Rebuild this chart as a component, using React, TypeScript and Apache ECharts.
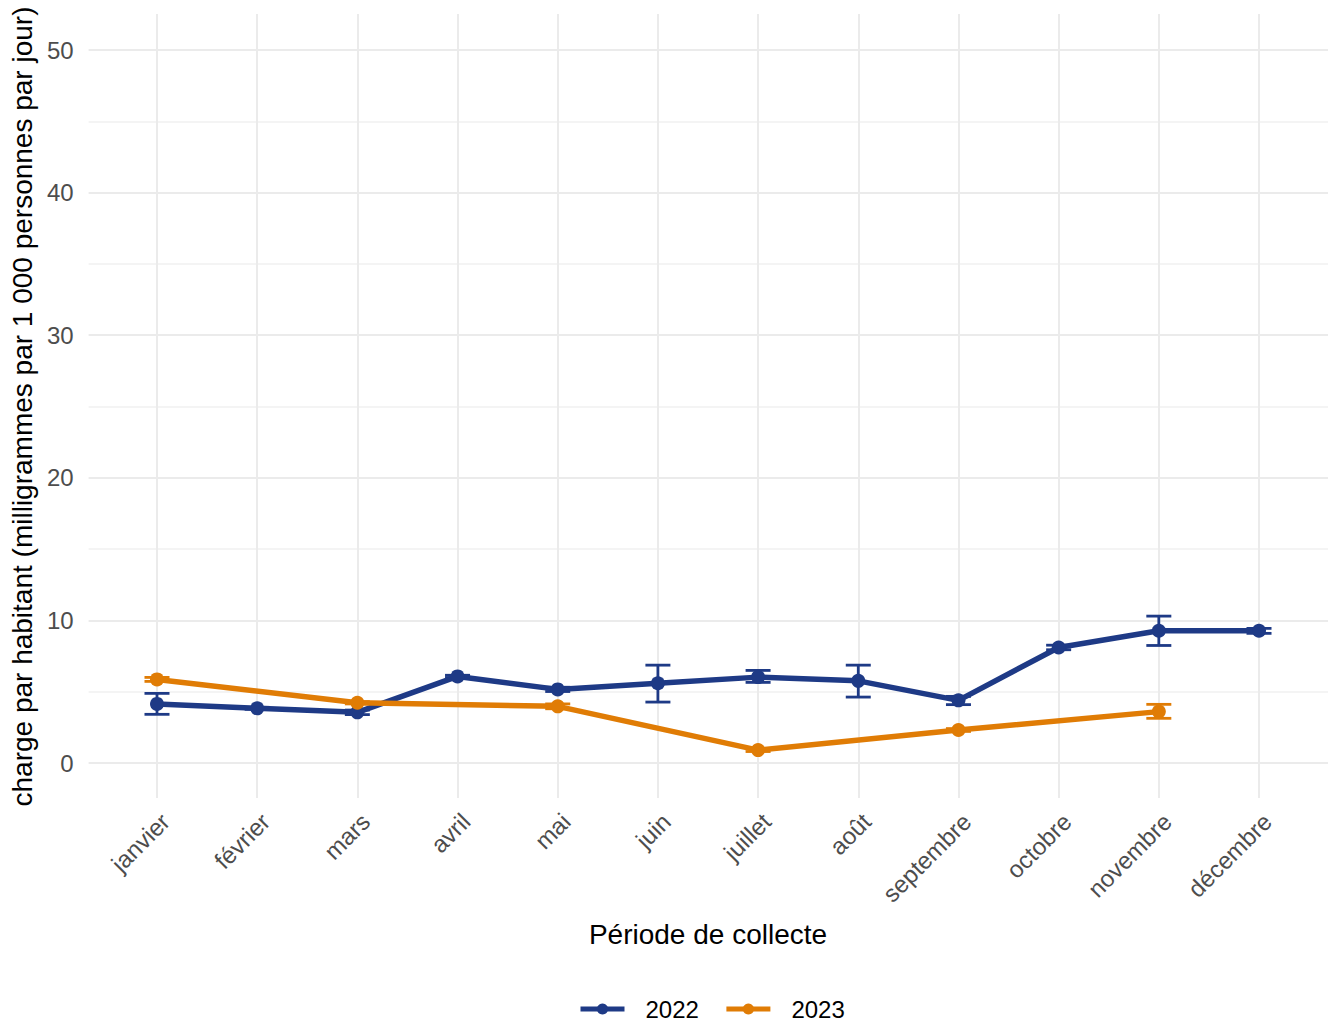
import React, { useEffect, useRef } from "react";
import * as echarts from "echarts";

const months = ["janvier", "février", "mars", "avril", "mai", "juin", "juillet", "août", "septembre", "octobre", "novembre", "décembre"];

const v2022 = [4.1, 3.79, 3.51, 6.03, 5.12, 5.55, 5.98, 5.72, 4.35, 8.06, 9.23, 9.23];
const lo2022 = [3.37, 3.72, 3.35, 5.95, 4.97, 4.23, 5.61, 4.58, 4.05, 7.9, 8.2, 9.05];
const hi2022 = [4.84, 3.86, 3.67, 6.11, 5.27, 6.82, 6.45, 6.82, 4.63, 8.22, 10.26, 9.4];

const v2023 = [5.82, null, 4.18, null, 3.93, null, 0.86, null, 2.27, null, 3.56, null];
const lo2023 = [5.68, null, 4.1, null, 3.76, null, 0.76, null, 2.17, null, 3.09, null];
const hi2023 = [5.96, null, 4.26, null, 4.1, null, 0.96, null, 2.37, null, 4.07, null];

const C2022 = "#1e3a86";
const C2023 = "#e07c05";
const FONT = "'Liberation Sans', Arial, sans-serif";

function errData(lo: (number | null)[], hi: (number | null)[]) {
  const out: number[][] = [];
  lo.forEach((l, i) => {
    const h = hi[i];
    if (l != null && h != null) out.push([i, l, h]);
  });
  return out;
}

function errSeries(name: string, color: string, data: number[][]) {
  return {
    type: "custom",
    name,
    xAxisIndex: 1,
    yAxisIndex: 1,
    z: 3,
    data,
    encode: { x: 0, y: [1, 2] },
    renderItem: (params: any, api: any) => {
      const i = api.value(0);
      const pLo = api.coord([i, api.value(1)]);
      const pHi = api.coord([i, api.value(2)]);
      const w = 12.5;
      const style = { stroke: color, lineWidth: 2.8 };
      return {
        type: "group",
        children: [
          { type: "line", shape: { x1: pLo[0], y1: pHi[1], x2: pLo[0], y2: pLo[1] }, style },
          { type: "line", shape: { x1: pLo[0] - w, y1: pHi[1], x2: pLo[0] + w, y2: pHi[1] }, style },
          { type: "line", shape: { x1: pLo[0] - w, y1: pLo[1], x2: pLo[0] + w, y2: pLo[1] }, style },
        ],
      };
    },
  };
}

export default function App() {
  const ref = useRef<HTMLDivElement>(null);
  useEffect(() => {
    if (!ref.current) return;
    const chart = echarts.init(ref.current, undefined, { renderer: "svg" });
    const option: any = {
      animation: false,
      backgroundColor: "#ffffff",
      textStyle: { fontFamily: FONT },
      grid: [
        { left: 88, right: 2, top: 50, bottom: 260 },
        { left: 106.9, right: 20.9, top: 14, bottom: 225 },
      ],
      xAxis: [
        { gridIndex: 0, type: "category", data: months, show: false },
        {
          gridIndex: 1,
          type: "category",
          data: months,
          axisLine: { show: false, onZero: false },
          axisTick: {
            show: true,
            inside: true,
            alignWithLabel: true,
            interval: 0,
            length: 784,
            lineStyle: { color: "#ebebeb", width: 2 },
          },
          splitLine: { show: false },
          axisLabel: {
            interval: 0,
            rotate: 45,
            margin: 11,
            verticalAlign: "top",
            fontSize: 24,
            color: "#4d4d4d",
            fontFamily: FONT,
          },
        },
      ],
      yAxis: [
        {
          gridIndex: 0,
          type: "value",
          min: 0,
          max: 50,
          interval: 10,
          axisLine: { show: false },
          axisTick: { show: false },
          axisLabel: {
            margin: 15,
            fontSize: 24,
            color: "#4d4d4d",
            fontFamily: FONT,
          },
          splitLine: { show: true, lineStyle: { color: "#ebebeb", width: 2 } },
          minorTick: { show: false, splitNumber: 2 },
          minorSplitLine: { show: true, lineStyle: { color: "#f0f0f0", width: 1.5 } },
          name: "charge par habitant (milligrammes par 1 000 personnes par jour)",
          nameLocation: "middle",
          nameRotate: 90,
          nameGap: 52,
          nameTextStyle: { fontSize: 28, color: "#000000", fontFamily: FONT },
        },
        {
          gridIndex: 1,
          type: "value",
          min: -2.5,
          max: 52.5,
          show: false,
          splitLine: { show: false },
        },
      ],
      legend: {
        data: ["2022", "2023"],
        left: 578,
        top: 997,
        padding: 0,
        itemWidth: 44,
        itemHeight: 14,
        itemGap: 25,
        lineStyle: { width: 5 },
        textStyle: { fontSize: 24, color: "#000000", fontFamily: FONT, padding: [0, 0, 0, 16] },
      },
      graphic: [
        {
          type: "text",
          x: 708,
          y: 934,
          style: {
            text: "Période de collecte",
            fontSize: 28,
            fill: "#000000",
            fontFamily: FONT,
            textAlign: "center",
            textVerticalAlign: "middle",
          },
        },
      ],
      series: [
        {
          name: "2022",
          type: "line",
          xAxisIndex: 1,
          yAxisIndex: 1,
          data: v2022,
          symbol: "circle",
          symbolSize: 14,
          z: 4,
          itemStyle: { color: C2022 },
          lineStyle: { color: C2022, width: 5.5 },
        },
        {
          name: "2023",
          type: "line",
          xAxisIndex: 1,
          yAxisIndex: 1,
          data: v2023,
          connectNulls: true,
          symbol: "circle",
          symbolSize: 14,
          z: 4,
          itemStyle: { color: C2023 },
          lineStyle: { color: C2023, width: 5.5 },
        },
        errSeries("err2022", C2022, errData(lo2022, hi2022)),
        errSeries("err2023", C2023, errData(lo2023, hi2023)),
      ],
    };
    chart.setOption(option);
    return () => chart.dispose();
  }, []);
  return (
    <div
      ref={ref}
      style={{ position: "fixed", left: 0, top: 0, width: 1330, height: 1023, background: "#fff" }}
    />
  );
}
